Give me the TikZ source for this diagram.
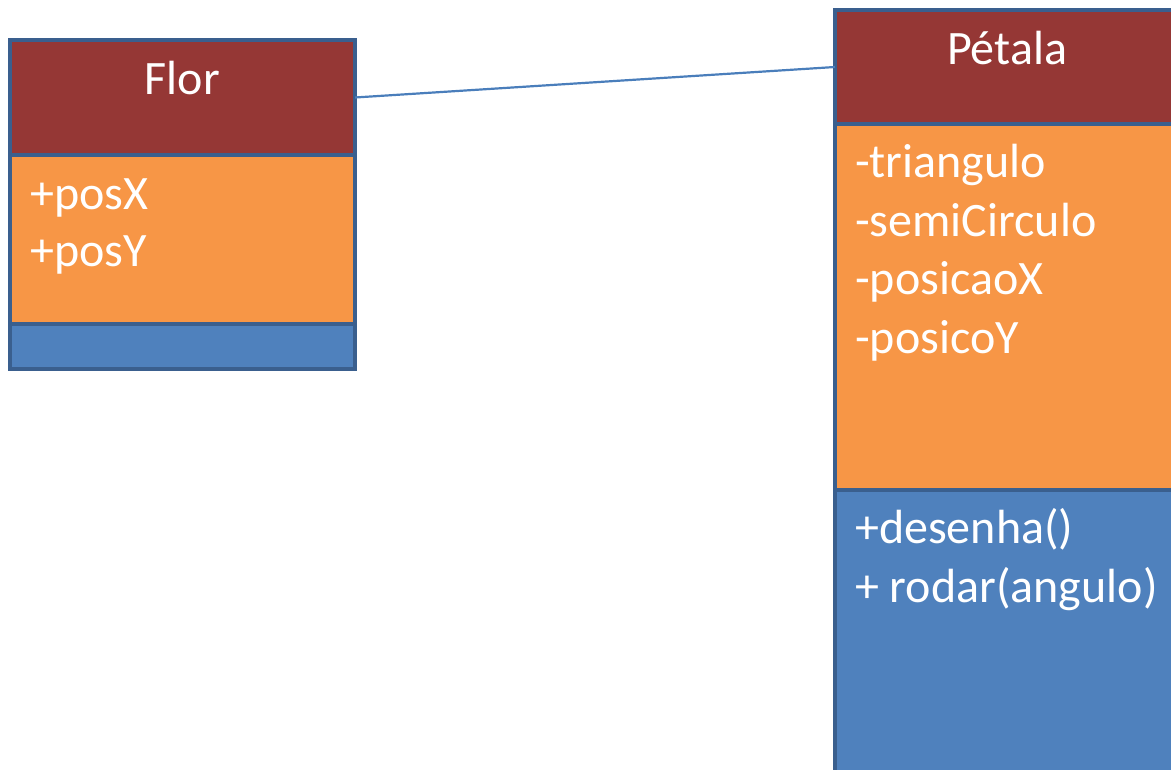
\documentclass[tikz,border=0pt]{standalone}
\usepackage{fontspec}
\setmainfont{Carlito}
\definecolor{hdrred}{HTML}{953735}
\definecolor{attrorange}{HTML}{F79646}
\definecolor{methblue}{HTML}{4F81BD}
\definecolor{edgeblue}{HTML}{3A5F8E}
\definecolor{linkblue}{HTML}{4A7EBB}
\tikzset{
  sect/.style={draw=edgeblue, line width=4.5pt, inner sep=0pt, outer sep=0pt, anchor=north west},
  hdr/.style={sect, fill=hdrred},
  attr/.style={sect, fill=attrorange},
  meth/.style={sect, fill=methblue},
  big/.style={text=white, font=\fontsize{48}{58}\selectfont, inner sep=0pt},
  item/.style={big, anchor=base west},
  link/.style={draw=linkblue, line width=2.2pt}
}
\begin{document}
\begin{tikzpicture}[x=1pt,y=-1pt]
\useasboundingbox (0,0) rectangle (1171,770);
\begin{scope}
\clip (0,0) rectangle (1171,770);
% Flor
\node[attr, minimum width=345pt, minimum height=169pt] (florA) at (10,155) {};
\node[meth, minimum width=345pt, minimum height=45pt] (florM) at (10,324) {};
\node[hdr, minimum width=345pt, minimum height=115pt] (florH) at (10,40) {};
\node[big, anchor=base] (florT) at (182.5,95) {Flor};
\node[item] (fa1) at (30,210) {+posX};
\node[item] (fa2) at (30,267) {+posY};
% Petala
\node[attr, minimum width=344pt, minimum height=366pt] (petA) at (835,124) {};
\node[meth, minimum width=344pt, minimum height=320pt] (petM) at (835,490) {};
\node[hdr, minimum width=344pt, minimum height=114pt] (petH) at (835,10) {};
\node[big, anchor=base] (petT) at (1007,65) {Pétala};
\node[item] (pa1) at (855,178) {-triangulo};
\node[item] (pa2) at (855,237) {-semiCirculo};
\node[item] (pa3) at (855,295) {-posicaoX};
\node[item] (pa4) at (855,353) {-posicoY};
\node[item] (pm1) at (855,543) {+desenha()};
\node[item] (pm2) at (855,602) {+ rodar(angulo)};
% connector
\draw[link] (florH.east) -- (petH.west);
\end{scope}
\end{tikzpicture}
\end{document}
